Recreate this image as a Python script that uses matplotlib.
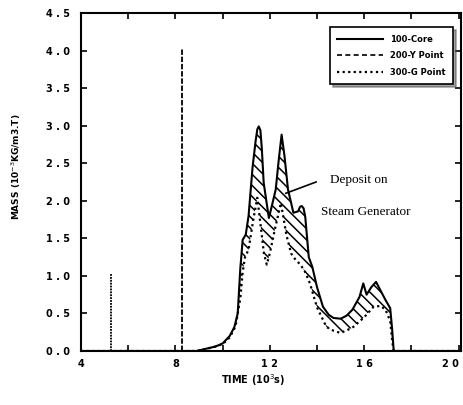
import matplotlib
matplotlib.use("Agg")
import matplotlib.pyplot as plt
import numpy as np

# 100-Core (solid) curve
core_t = [4.0, 8.9, 9.3, 9.7, 10.0, 10.3, 10.5, 10.64, 10.75, 10.85, 10.98, 11.1, 11.27, 11.4,
          11.47, 11.53, 11.6, 11.66, 11.74, 11.96, 12.1, 12.25, 12.38, 12.5, 12.62, 12.77,
          13.0, 13.2, 13.28, 13.35, 13.43, 13.5, 13.65, 13.8, 14.0, 14.25, 14.5, 14.7,
          15.0, 15.25, 15.5, 15.8, 15.96, 16.1, 16.3, 16.5, 16.7, 16.9, 17.1, 17.18,
          17.25, 20.0]
core_m = [0.0, 0.0, 0.03, 0.06, 0.1, 0.2, 0.32, 0.5, 1.1, 1.48, 1.55, 1.8, 2.45, 2.8,
          2.95, 2.99, 2.94, 2.7, 2.24, 1.77, 1.95, 2.15, 2.55, 2.88, 2.6, 2.15,
          1.84, 1.86, 1.92, 1.93, 1.9, 1.79, 1.25, 1.12, 0.85, 0.59, 0.48, 0.44,
          0.43, 0.47, 0.55, 0.72, 0.9, 0.75, 0.85, 0.92, 0.8, 0.68, 0.57, 0.3,
          0.0, 0.0]

# 300-G Point (dotted) curve
g_t = [4.0, 8.9, 9.2, 9.6, 10.0, 10.3, 10.55, 10.75, 10.85, 10.95, 11.1, 11.3, 11.47,
       11.6, 11.75, 11.87, 12.0, 12.2, 12.47, 12.7, 12.9, 13.1, 13.3, 13.5, 13.7,
       14.0, 14.4, 14.7, 15.0, 15.5, 16.0, 16.4, 16.7, 16.9, 17.1, 17.2, 17.25, 20.0]
g_m = [0.0, 0.0, 0.02, 0.05, 0.09, 0.18, 0.33, 0.7, 1.05, 1.25, 1.35, 1.75, 2.04,
       1.7, 1.3, 1.15, 1.3, 1.6, 1.97, 1.55, 1.3, 1.21, 1.15, 1.05, 0.9,
       0.58, 0.32, 0.27, 0.24, 0.31, 0.45, 0.59, 0.6, 0.55, 0.4, 0.1, 0.0, 0.0]

# early spikes
spike_t = [5.25, 8.3]
spike_m = [1.03, 4.02]

xticks = [4, 8, 12, 16, 20]
xtick_labels = ["4", "8", "1 2", "1 6", "2 0"]
yticks = [0.0, 0.5, 1.0, 1.5, 2.0, 2.5, 3.0, 3.5, 4.0, 4.5]
ytick_labels = ["0 . 0", "0 . 5", "1 . 0", "1 . 5", "2 . 0",
                "2 . 5", "3 . 0", "3 . 5", "4 . 0", "4 . 5"]

plt.rcParams["hatch.linewidth"] = 1.1

fig = plt.figure(figsize=(4.64, 4.05), dpi=100)
ax = fig.add_axes([81 / 464, 1 - 351 / 405, 380 / 464, 338 / 405])

# hatched deposit region between the core and G point curves
poly_x = np.concatenate([core_t, g_t[::-1]])
poly_y = np.concatenate([core_m, g_m[::-1]])
ax.fill(poly_x, poly_y, facecolor="none", edgecolor="black", hatch="\\\\\\",
        linewidth=0)

ax.plot(core_t, core_m, color="black", lw=1.5, label="100-Core")
ax.plot([], [], color="black", lw=1.2, ls=(0, (3, 2)), label="200-Y Point")
ax.plot(g_t, g_m, color="black", lw=1.6, ls=(0, (1, 1.5)), label="300-G Point")

ax.vlines(spike_t[0], 0, spike_m[0], color="black", lw=1.3, ls=(0, (1, 0.6)))
ax.vlines(spike_t[1], 0, spike_m[1], color="black", lw=1.3, ls=(0, (3, 1)))

ax.set_xlim(4, 20.1)
ax.set_ylim(0, 4.5)
ax.set_xticks(xticks)
ax.set_xticklabels(xtick_labels, fontsize=7, fontweight="bold")
ax.get_xticklabels()[-1].set_horizontalalignment("right")
ax.set_xticks([6, 10, 14, 18], minor=True)
ax.set_yticks(yticks)
ax.set_yticklabels(ytick_labels, fontsize=7, fontweight="bold")
ax.tick_params(which="both", direction="in", top=True, right=True,
               length=4, width=1.2)
ax.tick_params(axis="x", pad=6)
ax.tick_params(axis="y", pad=8)
for sp in ax.spines.values():
    sp.set_linewidth(1.5)

ax.set_xlabel("TIME (10$^3$s)", fontsize=7, fontweight="bold")
ax.xaxis.set_label_coords((253 - 81) / 380, -(372 - 351) / 338)
ax.set_ylabel("MASS (10$^{-3}$KG/m3.T)", fontsize=6.5, fontweight="bold")
ax.yaxis.set_label_coords(-(81 - 23) / 380, (351 - 167) / 338)

ax.plot([12.68, 13.96], [2.1, 2.25], color="black", lw=1.2)
ax.text(14.55, 2.28, "Deposit on", family="Liberation Serif", fontsize=9.5,
        va="center")
ax.text(14.17, 1.85, "Steam Generator", family="Liberation Serif",
        fontsize=9.5, va="center")

leg = ax.legend(loc="upper right", bbox_to_anchor=(0.99, 0.97),
                prop={"weight": "bold", "size": 6}, frameon=True,
                fancybox=False, shadow=True, edgecolor="black",
                handlelength=5.5, borderpad=0.9, labelspacing=0.9)
leg.get_frame().set_linewidth(1.2)

fig.savefig("out.png", dpi=100)
